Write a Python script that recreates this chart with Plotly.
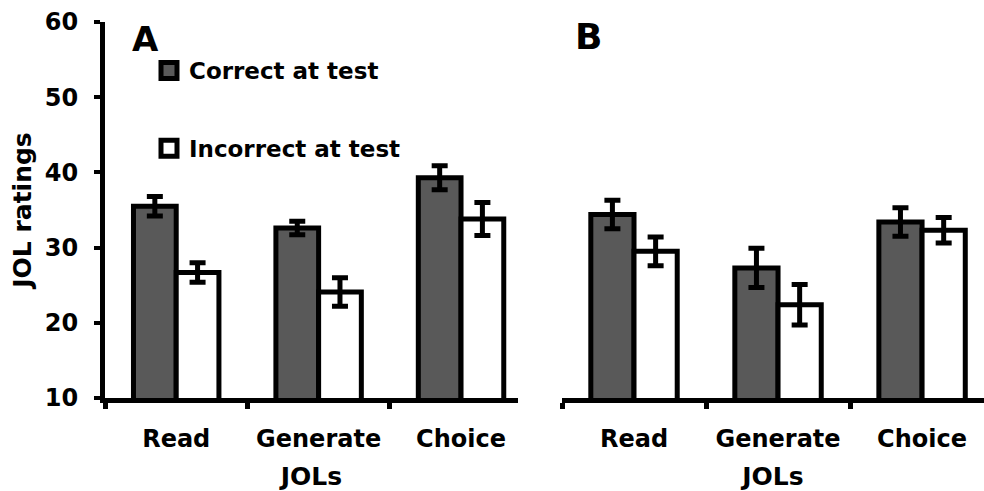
import plotly.graph_objects as go

categories = ["Read", "Generate", "Choice"]

# Panel A
a_correct = [35.5, 32.6, 39.3]
a_correct_err = [1.3, 0.9, 1.6]
a_incorrect = [26.7, 24.1, 33.8]
a_incorrect_err = [1.3, 1.9, 2.2]

# Panel B
b_correct = [34.4, 27.3, 33.4]
b_correct_err = [1.9, 2.6, 1.9]
b_incorrect = [29.5, 22.4, 32.3]
b_incorrect_err = [1.9, 2.7, 1.7]

series_names = ["Correct at test", "Incorrect at test"]

FONT = "DejaVu Sans"
GRAY = "#595959"
W, H = 984, 491


def bar(name, x, y, err, fill, xa, ya):
    return go.Bar(
        name=name, x=x, y=y, xaxis=xa, yaxis=ya,
        marker=dict(color=fill, line=dict(color="black", width=5)),
        error_y=dict(type="data", array=err, visible=True, color="black",
                     thickness=5, width=8),
        showlegend=False,
    )


fig = go.Figure()
fig.add_trace(bar(series_names[0], categories, a_correct, a_correct_err, GRAY, "x", "y"))
fig.add_trace(bar(series_names[1], categories, a_incorrect, a_incorrect_err, "white", "x", "y"))
fig.add_trace(bar(series_names[0], categories, b_correct, b_correct_err, GRAY, "x2", "y2"))
fig.add_trace(bar(series_names[1], categories, b_incorrect, b_incorrect_err, "white", "x2", "y2"))

# legend-only entries (square swatches with thick borders)
for i, (nm, fill) in enumerate(zip(series_names, [GRAY, "white"])):
    fig.add_trace(go.Scatter(
        name=nm, x=[None], y=[None], mode="markers", xaxis="x", yaxis="y",
        marker=dict(symbol="square", size=16, color=fill, line=dict(color="black", width=5)),
        showlegend=True, legendgroup="g%d" % i, hoverinfo="skip",
    ))

yd = [1 - 398 / H, 1 - 22 / H]
tickfont = dict(family=FONT, size=24, color="black", weight="bold")
titlefont = dict(family=FONT, size=25, color="black", weight="bold")

xcommon = dict(
    type="category", showline=True, linewidth=5, linecolor="black",
    ticks="outside", tickson="boundaries", ticklen=6, tickwidth=5, tickcolor="black",
    showgrid=False, zeroline=False, tickfont=tickfont, ticklabelstandoff=15,
    automargin=False,
    title=dict(text="JOLs", font=titlefont, standoff=21),
)

fig.update_layout(
    width=W, height=H,
    margin=dict(l=0, r=0, t=0, b=0, autoexpand=False),
    paper_bgcolor="white", plot_bgcolor="white",
    font=dict(family=FONT, color="black", weight="bold"),
    barmode="group", bargap=0.4, bargroupgap=0,
    xaxis=dict(domain=[105 / W, 518 / W], range=[-0.5, 2.4], anchor="y", **xcommon),
    xaxis2=dict(domain=[562 / W, 1.0], range=[-0.5, 2.43], anchor="y2", **xcommon),
    yaxis=dict(
        domain=yd, range=[10, 60], dtick=10, tick0=10, anchor="x",
        showline=True, linewidth=5, linecolor="black",
        ticks="outside", ticklen=6, tickwidth=4, tickcolor="black",
        showgrid=False, zeroline=False, tickfont=tickfont, ticklabelstandoff=11,
        automargin=False,
        title=dict(text="JOL ratings", font=titlefont, standoff=8),
    ),
    yaxis2=dict(
        domain=yd, range=[10, 60], anchor="x2", automargin=False,
        showline=False, showticklabels=False, ticks="",
        showgrid=False, zeroline=False,
    ),
    legend=dict(
        x=149 / W, y=1 - 49 / H, xanchor="left", yanchor="top",
        font=dict(family=FONT, size=23, color="black", weight="bold"),
        bgcolor="rgba(0,0,0,0)", traceorder="grouped", tracegroupgap=45,
        itemclick=False,
    ),
    annotations=[
        dict(text="A", x=145 / W, y=1 - 39 / H, xref="paper", yref="paper",
             xanchor="center", yanchor="middle",
             showarrow=False, font=dict(family=FONT, size=34, color="black", weight="bold")),
        dict(text="B", x=588 / W, y=1 - 37 / H, xref="paper", yref="paper",
             xanchor="center", yanchor="middle",
             showarrow=False, font=dict(family=FONT, size=36, color="black", weight="bold")),
    ],
)

fig.write_html("out.html")
